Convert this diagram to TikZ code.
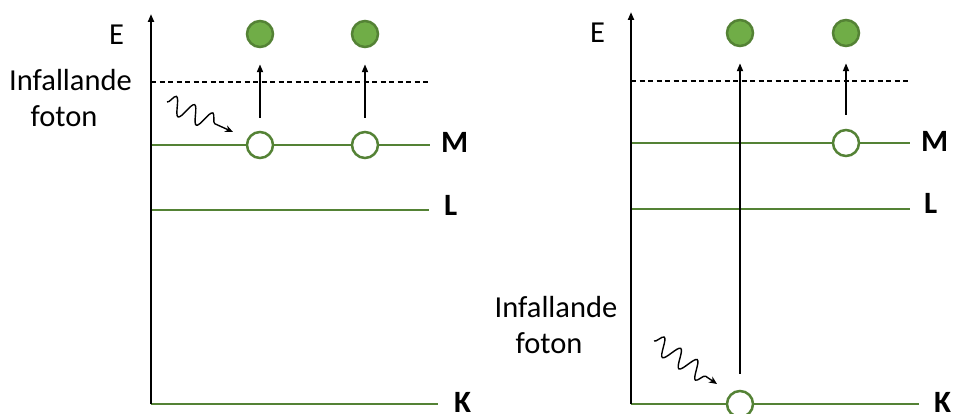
\documentclass[tikz,border=0pt]{standalone}
\usepackage{fontspec}
\setmainfont{Carlito}
\usetikzlibrary{arrows.meta,decorations.pathmorphing}
\definecolor{lvl}{HTML}{548235}
\definecolor{elec}{HTML}{70AD47}
\begin{document}
\begin{tikzpicture}[x=1pt,y=-1pt,
  axis/.style={line width=2pt,-{Triangle[length=8pt,width=6pt]}},
  level/.style={lvl,line width=2pt},
  dashlevel/.style={black,line width=1.5pt,dash pattern=on 5pt off 3.5pt},
  electron/.style={circle,draw=lvl,fill=elec,line width=2.5pt,minimum size=26pt,inner sep=0pt},
  hole/.style={circle,draw=lvl,fill=white,line width=2.5pt,minimum size=26pt,inner sep=0pt},
  up/.style={line width=1.8pt,-{Triangle[length=8pt,width=6pt]}},
  photon/.style={line width=1.4pt,-{Stealth[length=8pt,width=7pt]},decorate,
    decoration={snake,amplitude=9pt,segment length=20pt,pre length=0pt,post length=10pt}},
  lab/.style={font=\fontsize{30.5}{36}\selectfont,inner sep=0pt},
  shell/.style={font=\fontsize{31}{36}\selectfont\bfseries,inner sep=0pt,anchor=base west}
]
\useasboundingbox (0,0) rectangle (955,414);
\clip (0,0) rectangle (955,414);

% ---------- left panel ----------
\coordinate (A1b) at (151,404);
\coordinate (A1t) at (151,14);
\draw[dashlevel] (151,82) -- (428,82);
\draw[level] (151,145) -- (430,145);
\draw[level] (151,210) -- (429,210);
\draw[level] (151,404) -- (438,404);
\draw[axis] (A1b) -- (A1t);

\node[lab,anchor=base] (E1) at (116.5,45) {E};
\node[lab,anchor=base] (inf1) at (70.5,91) {Infallande};
\node[lab,anchor=base] (fot1) at (64,127) {foton};
\node[shell] (M1) at (441,153) {M};
\node[shell] (L1) at (444,215) {L};
\node[shell] (K1) at (454,412) {K};

\node[electron] (e11) at (260,34) {};
\node[electron] (e12) at (365,34) {};
\node[hole] (h11) at (260,145) {};
\node[hole] (h12) at (365,145) {};
\draw[up,shorten <=13pt,shorten >=16pt] (h11) -- (e11);
\draw[up,shorten <=13pt,shorten >=16pt] (h12) -- (e12);

\coordinate (p1s) at (167,102);
\coordinate (p1e) at (233,132);
\draw[photon] (p1s) -- (p1e);

% ---------- right panel ----------
\coordinate (A2b) at (631,404);
\coordinate (A2t) at (631,12);
\draw[dashlevel] (631,81) -- (908,81);
\draw[level] (631,143) -- (910,143);
\draw[level] (631,209) -- (910,209);
\draw[level] (631,404) -- (919,404);
\draw[axis] (A2b) -- (A2t);

\node[lab,anchor=base] (E2) at (597.5,43) {E};
\node[lab,anchor=base] (inf2) at (556,317) {Infallande};
\node[lab,anchor=base] (fot2) at (549,353) {foton};
\node[shell] (M2) at (921,152) {M};
\node[shell] (L2) at (924,214) {L};
\node[shell] (K2) at (934,412) {K};

\node[electron] (e21) at (740,33) {};
\node[electron] (e22) at (846,33) {};
\node[hole] (h21) at (846,143) {};
\node[hole] (h22) at (740,404) {};
\draw[up,shorten <=14pt,shorten >=16pt] (h21) -- (e22);
\draw[up,shorten <=16pt,shorten >=16pt] (h22) -- (e21);

\coordinate (p2s) at (654,341);
\coordinate (p2e) at (717,384);
\draw[photon] (p2s) -- (p2e);
\end{tikzpicture}
\end{document}
